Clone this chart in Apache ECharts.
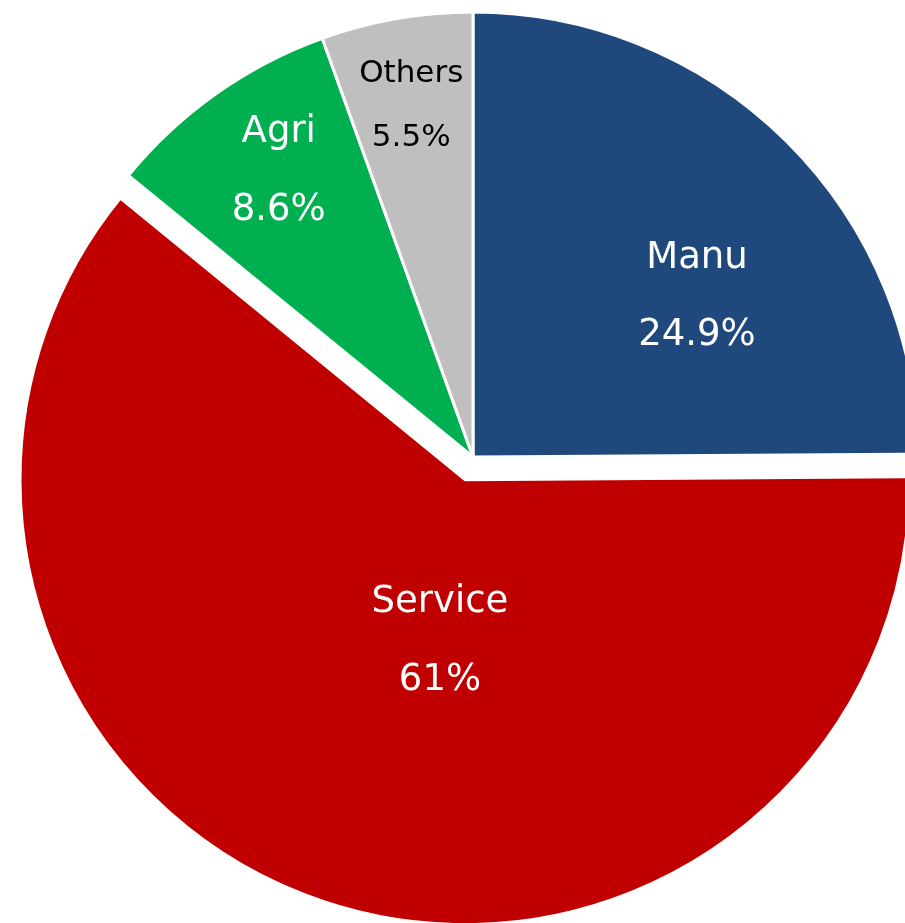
<!DOCTYPE html>
<html>
<head>
<meta charset="utf-8">
<script src="https://cdn.jsdelivr.net/npm/echarts@6/dist/echarts.min.js"></script>
<style>
  html, body { margin: 0; padding: 0; background: #ffffff; }
  #chart { width: 905px; height: 923px; }
</style>
</head>
<body>
<div id="chart"></div>
<script>
// Share of output by sector (%)
const sectors = ['Manu', 'Service', 'Agri', 'Others'];
const shares = [24.9, 61, 8.6, 5.5];

// Styling per sector
const sliceColors = ['#1F497D', '#C00000', '#00B050', '#BFBFBF'];
const labelColors = ['#ffffff', '#ffffff', '#ffffff', '#000000'];
const labelSizes = [37, 37, 37, 31];
const labelLineHeights = [77, 78, 78, 64];
// Nudges applied to the inside label anchor of each slice
const labelNudge = [[65, 0], [50, -51], [-64, -102], [-23, -129]];

const chart = echarts.init(document.getElementById('chart'), null, { renderer: 'canvas' });

const data = sectors.map((name, i) => ({
  name: name,
  value: shares[i],
  selected: name === 'Service',
  itemStyle: { color: sliceColors[i] },
  label: {
    color: labelColors[i],
    fontSize: labelSizes[i],
    lineHeight: labelLineHeights[i]
  }
}));

chart.setOption({
  animation: false,
  backgroundColor: '#ffffff',
  series: [{
    type: 'pie',
    center: [473, 457],
    radius: [0, 445],
    startAngle: 90,
    clockwise: true,
    avoidLabelOverlap: false,
    selectedMode: 'multiple',
    selectedOffset: 24,
    emphasis: { disabled: true },
    itemStyle: { borderColor: '#ffffff', borderWidth: 3 },
    label: {
      show: true,
      position: 'inside',
      fontFamily: 'DejaVu Sans',
      formatter: p => p.name + '\n' + p.value + '%',
      align: 'center',
      verticalAlign: 'middle'
    },
    labelLine: { show: false },
    labelLayout: p => ({ dx: labelNudge[p.dataIndex][0], dy: labelNudge[p.dataIndex][1] }),
    data: data
  }]
});
</script>
</body>
</html>
